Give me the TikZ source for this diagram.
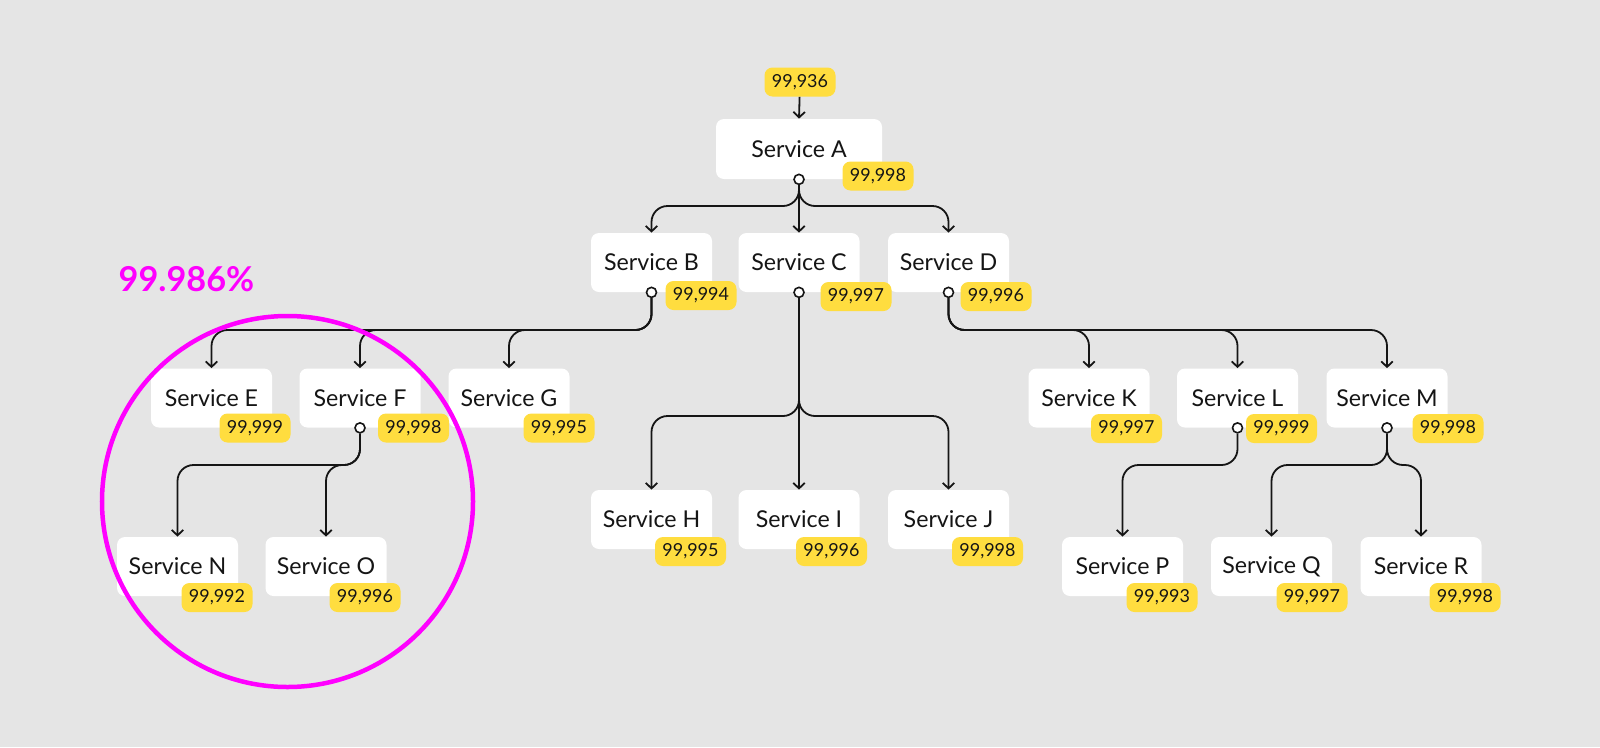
\documentclass[tikz,border=0pt]{standalone}
\usepackage{fontspec}
\setmainfont{Lato}
\usetikzlibrary{arrows.meta}
\definecolor{bgGray}{HTML}{E5E5E5}
\definecolor{badgeYellow}{HTML}{FFDD3F}
\definecolor{ringMagenta}{HTML}{FF00FF}
\definecolor{ink}{HTML}{151515}

\tikzset{
  svc/.style={fill=white, rounded corners=1.6mm, minimum width=24.2mm, minimum height=11.8mm,
    inner sep=0pt, text=ink, font=\fontsize{13.2}{15}\selectfont},
  badge/.style={fill=badgeYellow, rounded corners=1.6mm, minimum width=14.2mm, minimum height=5.8mm,
    inner sep=0pt, text=ink, font=\fontsize{10.2}{12}\selectfont},
  joint/.style={circle, draw=ink, fill=white, line width=0.32mm, inner sep=0pt, minimum size=2mm},
  link/.style={draw=ink, line width=0.36mm, rounded corners=3.2mm, -{Straight Barb[length=1.1mm,width=2.3mm]}}
}

\begin{document}
\begin{tikzpicture}[x=0.2mm, y=-0.2mm]
\useasboundingbox (0,0) rectangle (1600,747);
\fill[bgGray] (0,0) rectangle (1600,747);

% Service A
\node[badge] (bTop) at (800,82) {99,936};
\node[svc, minimum width=33.2mm, minimum height=12mm] (sA) at (799,149) {Service A};
\node[badge] (bA) at (878,176) {99,998};

% Nivel 2
\node[svc] (sB) at (651.5,262.5) {Service B};
\node[svc] (sC) at (799,262.5) {Service C};
\node[svc] (sD) at (948.5,262.5) {Service D};
\node[badge] (bB) at (701,295.5) {99,994};
\node[badge] (bC) at (856,296.5) {99,997};
\node[badge] (bD) at (996,296.5) {99,996};

% Nivel 3
\node[svc] (sE) at (211.5,398) {Service E};
\node[svc] (sF) at (360,398) {Service F};
\node[svc] (sG) at (509,398) {Service G};
\node[svc] (sK) at (1089,398) {Service K};
\node[svc] (sL) at (1237.5,398) {Service L};
\node[svc] (sM) at (1387,398) {Service M};
\node[badge] (bE) at (255,428) {99,999};
\node[badge] (bF) at (413.5,428) {99,998};
\node[badge] (bG) at (559,428) {99,995};
\node[badge] (bK) at (1126.5,428.5) {99,997};
\node[badge] (bL) at (1281.5,428.5) {99,999};
\node[badge] (bM) at (1448,428.5) {99,998};

\node[svc] (sH) at (651.5,519.5) {Service H};
\node[svc] (sI) at (799,519.5) {Service I};
\node[svc] (sJ) at (948.5,519.5) {Service J};
\node[badge] (bH) at (690.5,551.5) {99,995};
\node[badge] (bI) at (831.5,551.5) {99,996};
\node[badge] (bJ) at (987.5,551.5) {99,998};

% Nivel 4
\node[svc] (sN) at (177.5,566.5) {Service N};
\node[svc] (sO) at (326,566.5) {Service O};
\node[svc] (sP) at (1122.5,566.5) {Service P};
\node[svc] (sQ) at (1271.5,566.5) {Service Q};
\node[svc] (sR) at (1421,566.5) {Service R};
\node[badge] (bN) at (217,597.5) {99,992};
\node[badge] (bO) at (365,597.5) {99,996};
\node[badge] (bP) at (1162,597.5) {99,993};
\node[badge] (bQ) at (1312,597.5) {99,997};
\node[badge] (bR) at (1465,597.5) {99,998};

% Pontos de saida
\foreach \s in {A,B,C,D,F,L,M}
  \node[joint] (o\s) at (s\s.south) {};

% Barramentos
\coordinate (busA) at (0,206);
\coordinate (busB) at (0,330);
\coordinate (busC) at (0,416);
\coordinate (busF) at (0,465);

% Ligacoes
\draw[link] (bTop) -- (sA.north);
\draw[link] (oA.south) |- (sB.north |- busA) -- (sB.north);
\draw[link] (oA.south) -- (sC.north);
\draw[link] (oA.south) |- (sD.north |- busA) -- (sD.north);
\foreach \t in {E,F,G}
  \draw[link] (oB.south) |- (s\t.north |- busB) -- (s\t.north);
\foreach \t in {K,L,M}
  \draw[link] (oD.south) |- (s\t.north |- busB) -- (s\t.north);
\draw[link] (oC.south) |- (sH.north |- busC) -- (sH.north);
\draw[link] (oC.south) -- (sI.north);
\draw[link] (oC.south) |- (sJ.north |- busC) -- (sJ.north);
\foreach \t in {N,O}
  \draw[link] (oF.south) |- (s\t.north |- busF) -- (s\t.north);
\draw[link] (oL.south) |- (sP.north |- busF) -- (sP.north);
\foreach \t in {Q,R}
  \draw[link] (oM.south) |- (s\t.north |- busF) -- (s\t.north);

% Destaque
\node[text=ringMagenta, font=\fontsize{19.5}{22}\selectfont\bfseries] (pct) at (186.5,279.5) {99.986\%};
\node[circle, draw=ringMagenta, line width=0.9mm, inner sep=0pt, minimum size=74.2mm] (ring) at (287.5,501.5) {};
\end{tikzpicture}
\end{document}
